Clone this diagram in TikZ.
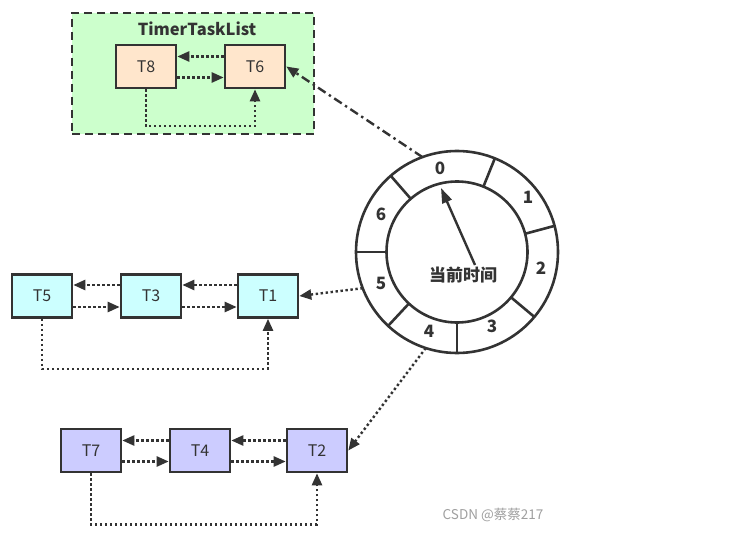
\documentclass[tikz,border=0pt]{standalone}
\usepackage{fontspec}
\setmainfont{Noto Sans CJK SC}
\usetikzlibrary{arrows.meta}
\definecolor{ink}{HTML}{333333}
\definecolor{peach}{HTML}{FFE6CC}
\definecolor{aqua}{HTML}{CCFFFF}
\definecolor{lilac}{HTML}{CCCCFF}
\definecolor{mint}{HTML}{CCFFCC}
\begin{document}
\begin{tikzpicture}[x=1pt,y=-1pt,
  task/.style={draw=ink,line width=2.6pt,minimum width=60pt,minimum height=43pt,inner sep=0,font=\fontsize{16}{19}\selectfont,text=ink},
  dotlink/.style={draw=ink,line width=2.4pt,dash pattern=on 2.4pt off 2.6pt,-{Triangle[length=12pt,width=10pt]}},
  slot/.style={font=\bfseries\fontsize{17}{20}\selectfont,text=ink}]
\useasboundingbox (0,0) rectangle (730,548);
% timer task list of slot 0
\node[draw=ink,line width=2.6pt,dash pattern=on 8pt off 5pt,fill=mint,minimum width=242pt,minimum height=121pt] (grp) at (193,73.5) {};
\node[font=\bfseries\fontsize{16.5}{19}\selectfont,text=ink] (title) at (197,29) {TimerTaskList};
\node[task,fill=peach] (t8) at (146,66.5) {T8}; \node[task,fill=peach] (t6) at (255,66.5) {T6};
\draw[dotlink] ([yshift=10pt]t6.west) -- ([yshift=10pt]t8.east); \draw[dotlink] ([yshift=-11pt]t8.east) -- ([yshift=-11pt]t6.west);
\draw[dotlink] (t8.south) -- ++(0,37) -| (t6.south);
% list of slot 5
\node[task,fill=aqua] (t5) at (42,296) {T5}; \node[task,fill=aqua] (t3) at (151,296) {T3}; \node[task,fill=aqua] (t1) at (268,296) {T1};
\draw[dotlink] ([yshift=11pt]t3.west) -- ([yshift=11pt]t5.east); \draw[dotlink] ([yshift=-11pt]t5.east) -- ([yshift=-11pt]t3.west);
\draw[dotlink] ([yshift=11pt]t1.west) -- ([yshift=11pt]t3.east); \draw[dotlink] ([yshift=-11pt]t3.east) -- ([yshift=-11pt]t1.west);
\draw[dotlink] (t5.south) -- ++(0,50) -| (t1.south);
% list of slot 4
\node[task,fill=lilac] (t7) at (91,450.5) {T7}; \node[task,fill=lilac] (t4) at (200,450.5) {T4}; \node[task,fill=lilac] (t2) at (317,450.5) {T2};
\draw[dotlink] ([yshift=10pt]t4.west) -- ([yshift=10pt]t7.east); \draw[dotlink] ([yshift=-11pt]t7.east) -- ([yshift=-11pt]t4.west);
\draw[dotlink] ([yshift=10pt]t2.west) -- ([yshift=10pt]t4.east); \draw[dotlink] ([yshift=-11pt]t4.east) -- ([yshift=-11pt]t2.west);
\draw[dotlink] (t7.south) -- ++(0,51) -| (t2.south);
% time wheel
\node[circle,draw=ink,line width=2.6pt,minimum size=202pt,inner sep=0,outer sep=0] (ring) at (457,252) {};
\node[circle,draw=ink,line width=2.6pt,minimum size=141pt,inner sep=0,outer sep=0] (hub) at (457,252) {};
\foreach \a in {-90,-40,15,68,131,180,227} \draw[ink,line width=2.6pt] (hub.\a) -- (ring.\a);
\node[slot] (s0) at (440,168) {0}; \node[slot] (s1) at (528,197) {1}; \node[slot] (s2) at (541,268) {2};
\node[slot] (s3) at (492,326) {3}; \node[slot] (s4) at (429,331) {4}; \node[slot] (s5) at (381,283) {5}; \node[slot] (s6) at (381,214) {6};
\node[font=\bfseries\fontsize{17}{20}\selectfont,text=ink] (now) at (463,275) {当前时间};
\coordinate (pivot) at (475,265); \coordinate (tip) at (441,188);
\draw[ink,line width=2.4pt,-{Triangle[length=15pt,width=10pt]}] (pivot) -- (tip);
% slots to their lists
\draw[dotlink,dash pattern=on 9pt off 4pt on 2.4pt off 4pt] (ring.110) -- (t6.east);
\draw[dotlink] (ring.201) -- (t1.east); \draw[dotlink] (ring.252) -- (t2.east);
\node[text=gray!75,font=\fontsize{13.5}{16}\selectfont] (mark) at (493,515) {CSDN @蔡蔡217};
\end{tikzpicture}
\end{document}
